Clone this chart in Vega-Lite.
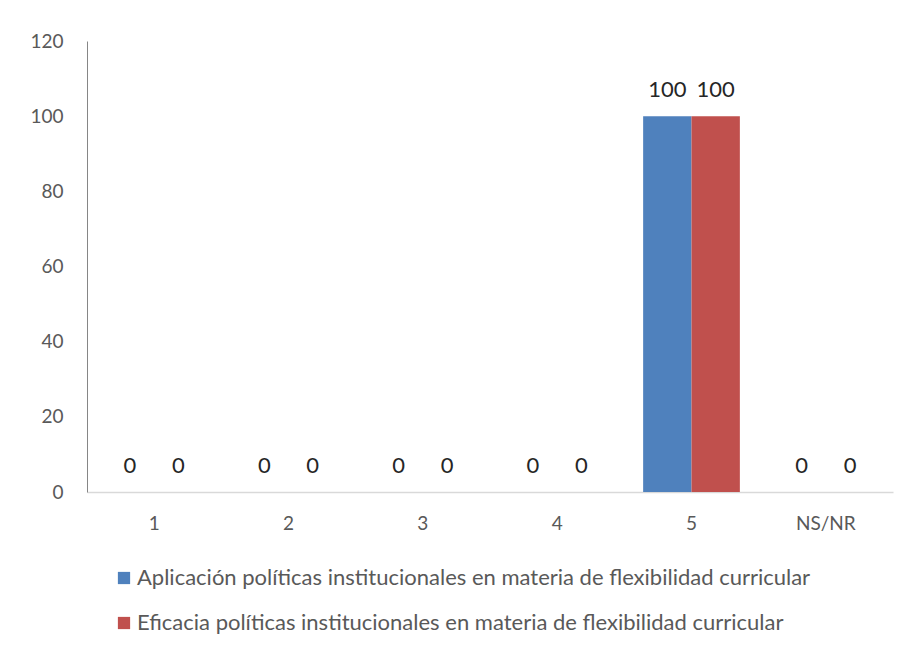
{
  "$schema": "https://vega.github.io/schema/vega-lite/v6.json",
  "width": 806,
  "height": 451,
  "autosize": {"type": "none"},
  "padding": {"left": 87, "top": 41, "right": 14, "bottom": 157},
  "background": "white",
  "config": {
    "view": {"stroke": null},
    "font": "Lato",
    "axis": {"labelFont": "Lato", "labelColor": "#595959", "labelFontSize": 19, "grid": false, "ticks": false, "title": null},
    "legend": {"labelFont": "Lato"}
  },
  "data": {
    "values": [
      {"cat": "1", "serie": "Aplicación políticas institucionales en materia de flexibilidad curricular", "valor": 0},
      {"cat": "1", "serie": "Eficacia políticas institucionales en materia de flexibilidad curricular", "valor": 0},
      {"cat": "2", "serie": "Aplicación políticas institucionales en materia de flexibilidad curricular", "valor": 0},
      {"cat": "2", "serie": "Eficacia políticas institucionales en materia de flexibilidad curricular", "valor": 0},
      {"cat": "3", "serie": "Aplicación políticas institucionales en materia de flexibilidad curricular", "valor": 0},
      {"cat": "3", "serie": "Eficacia políticas institucionales en materia de flexibilidad curricular", "valor": 0},
      {"cat": "4", "serie": "Aplicación políticas institucionales en materia de flexibilidad curricular", "valor": 0},
      {"cat": "4", "serie": "Eficacia políticas institucionales en materia de flexibilidad curricular", "valor": 0},
      {"cat": "5", "serie": "Aplicación políticas institucionales en materia de flexibilidad curricular", "valor": 100},
      {"cat": "5", "serie": "Eficacia políticas institucionales en materia de flexibilidad curricular", "valor": 100},
      {"cat": "NS/NR", "serie": "Aplicación políticas institucionales en materia de flexibilidad curricular", "valor": 0},
      {"cat": "NS/NR", "serie": "Eficacia políticas institucionales en materia de flexibilidad curricular", "valor": 0}
    ]
  },
  "encoding": {
    "x": {
      "field": "cat", "type": "nominal", "sort": null,
      "scale": {"paddingInner": 0.28, "paddingOuter": 0.14},
      "axis": {"labelAngle": 0, "labelPadding": 22, "domainColor": "#D9D9D9", "domainWidth": 1.5}
    },
    "xOffset": {"field": "serie", "type": "nominal", "sort": null},
    "y": {
      "field": "valor", "type": "quantitative",
      "scale": {"domain": [0, 120]},
      "axis": {"values": [0, 20, 40, 60, 80, 100, 120], "labelPadding": 24, "domainColor": "#868686", "domainWidth": 1}
    }
  },
  "layer": [
    {
      "mark": {"type": "bar"},
      "encoding": {
        "color": {
          "field": "serie", "type": "nominal", "sort": null,
          "scale": {"range": ["#4F81BD", "#C0504D"]},
          "legend": {
            "title": null,
            "orient": "none",
            "legendX": 26,
            "legendY": 526,
            "direction": "vertical",
            "symbolType": "square",
            "symbolSize": 150,
            "symbolStrokeWidth": 0,
            "labelFontSize": 22,
            "labelColor": "#595959",
            "labelLimit": 0,
            "labelOffset": 2,
            "rowPadding": 23
          }
        }
      }
    },
    {
      "mark": {"type": "text", "dy": -26, "fontSize": 22, "color": "#262626", "baseline": "middle", "font": "Lato"},
      "encoding": {
        "text": {"field": "valor", "type": "quantitative"}
      }
    }
  ]
}
